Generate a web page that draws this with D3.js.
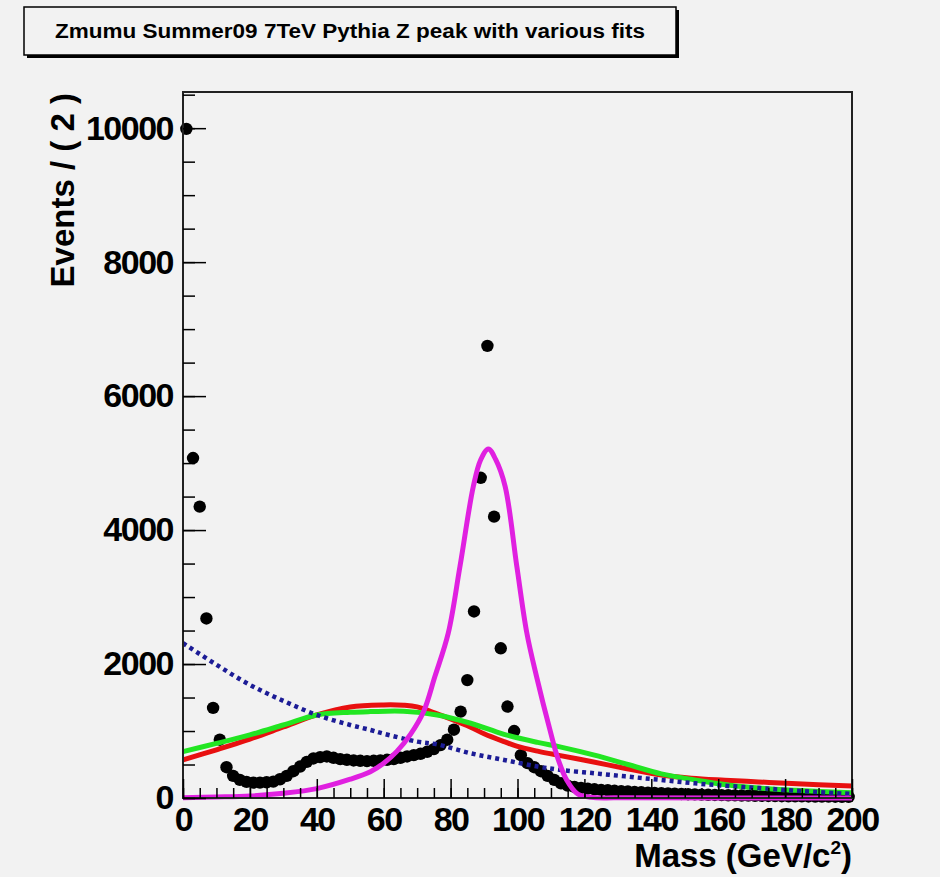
<!DOCTYPE html>
<html>
<head>
<meta charset="utf-8">
<script src="https://cdn.jsdelivr.net/npm/d3@7"></script>
<style>
  body { margin: 0; background: #ffffff; }
  text { font-family: "Liberation Sans", Arial, sans-serif; font-weight: bold; fill: #000; }
</style>
</head>
<body>
<svg width="946" height="882"></svg>
<script>
// data: dimuon mass histogram, 2 GeV bins (bin centres)
const dataMass = [1, 3, 5, 7, 9, 11, 13, 15, 17, 19, 21, 23, 25, 27, 29, 31, 33, 35, 37, 39,
  41, 43, 45, 47, 49, 51, 53, 55, 57, 59, 61, 63, 65, 67, 69, 71, 73, 75, 77, 79,
  81, 83, 85, 87, 89, 91, 93, 95, 97, 99, 101, 103, 105, 107, 109, 111, 113, 115, 117, 119,
  121, 123, 125, 127, 129, 131, 133, 135, 137, 139, 141, 143, 145, 147, 149, 151, 153, 155, 157, 159,
  161, 163, 165, 167, 169, 171, 173, 175, 177, 179, 181, 183, 185, 187, 189, 191, 193, 195, 197, 199];
const dataEvents = [9990, 5075, 4350, 2680, 1345, 870, 460, 330, 270, 240, 230, 230, 235, 245, 280, 330, 400, 470, 540, 590,
  610, 620, 600, 580, 570, 560, 555, 550, 555, 560, 570, 580, 600, 620, 640, 660, 690, 730, 790, 870,
  1020, 1290, 1760, 2785, 4780, 6750, 4200, 2235, 1365, 1000, 640, 520, 460, 400, 330, 270, 220, 185, 165, 150,
  140, 130, 122, 115, 108, 102, 96, 90, 85, 80, 76, 72, 68, 64, 60, 57, 54, 51, 48, 45,
  43, 41, 39, 37, 35, 33, 31, 30, 28, 27, 26, 25, 24, 23, 22, 21, 20, 19, 18, 17];

// fit curves
const redMass = [0, 10, 20, 30, 40, 50, 60, 66, 70, 76, 80, 86, 90, 96, 100, 106, 112, 122, 132, 142, 152, 162, 172, 182, 200];
const redEvents = [568, 720, 880, 1060, 1240, 1360, 1390, 1385, 1360, 1256, 1180, 1056, 960, 842, 770, 700, 640, 545, 445, 350, 295, 265, 240, 215, 180];

const greenMass = [0, 10, 20, 30, 40, 50, 56, 66, 76, 86, 96, 106, 113, 123, 133, 143, 153, 163, 173, 183, 200];
const greenEvents = [692, 815, 942, 1090, 1240, 1280, 1290, 1295, 1240, 1116, 950, 830, 760, 640, 500, 360, 270, 195, 145, 115, 80];

const blueMass = [0, 10, 20, 30, 40, 50, 56, 60, 70, 76, 86, 96, 106, 113, 123, 133, 143, 153, 163, 173, 183, 200];
const blueEvents = [2312, 1990, 1689, 1450, 1240, 1090, 1016, 960, 842, 800, 668, 568, 470, 418, 369, 319, 269, 219, 180, 145, 110, 60];

const magentaMass = [0, 10, 20, 30, 40, 50, 56, 60, 64, 68, 72, 75.3, 79.3, 82.8, 86.8, 89, 91.3, 93.5, 96.3, 99.8, 102.8, 105.7, 109.7, 112, 114.7, 118, 122, 130, 200];
const magentaEvents = [5, 15, 30, 70, 140, 280, 393, 520, 700, 950, 1300, 1813, 2461, 3457, 4653, 5050, 5210, 5050, 4653, 3457, 2461, 1813, 1016, 600, 269, 60, 10, 2, 0];

const xTicks = [0, 20, 40, 60, 80, 100, 120, 140, 160, 180, 200];
const yTicks = [0, 2000, 4000, 6000, 8000, 10000];

const titleText = 'Zmumu Summer09 7TeV Pythia Z peak with various fits';
const yAxisLabelText = 'Events / ( 2 )';

const svg = d3.select('svg');

// canvas background
svg.append('rect')
    .attr('x', 0).attr('y', 0)
    .attr('width', 940).attr('height', 877)
    .attr('fill', '#f2f2f2');

const frame = { left: 183, right: 852, top: 92, bottom: 798 };

const xScale = d3.scaleLinear().domain([0, 200]).range([frame.left, frame.right]);
const yScale = d3.scaleLinear().domain([0, 10540]).range([frame.bottom, frame.top]);

// title box with shadow
svg.append('rect')
    .attr('x', 27).attr('y', 10)
    .attr('width', 652).attr('height', 48)
    .attr('fill', '#000');
svg.append('rect')
    .attr('x', 24).attr('y', 7)
    .attr('width', 652).attr('height', 48)
    .attr('fill', '#f2f2f2')
    .attr('stroke', '#000')
    .attr('stroke-width', 1.5);
svg.append('text')
    .attr('x', 350).attr('y', 38)
    .attr('textLength', 590)
    .attr('lengthAdjust', 'spacingAndGlyphs')
    .style('font-size', '20px')
    .style('text-anchor', 'middle')
    .text(titleText);

// data points
svg.append('g')
    .selectAll('circle')
    .data(dataMass)
    .enter()
    .append('circle')
    .attr('cx', d => xScale(d))
    .attr('cy', (d, i) => yScale(dataEvents[i]))
    .attr('r', 6.2)
    .attr('fill', '#000');

const line = d3.line()
    .x(d => xScale(d[0]))
    .y(d => yScale(d[1]))
    .curve(d3.curveCatmullRom);

const pairs = (m, v) => m.map((d, i) => [d, v[i]]);

svg.append('path')
    .datum(pairs(redMass, redEvents))
    .attr('d', line)
    .attr('fill', 'none')
    .attr('stroke', '#e81010')
    .attr('stroke-width', 5);

svg.append('path')
    .datum(pairs(greenMass, greenEvents))
    .attr('d', line)
    .attr('fill', 'none')
    .attr('stroke', '#22e622')
    .attr('stroke-width', 5);

svg.append('path')
    .datum(pairs(blueMass, blueEvents))
    .attr('d', line)
    .attr('fill', 'none')
    .attr('stroke', '#1c1c96')
    .attr('stroke-width', 4.5)
    .attr('stroke-dasharray', '4,4');

svg.append('path')
    .datum(pairs(magentaMass, magentaEvents))
    .attr('d', line)
    .attr('fill', 'none')
    .attr('stroke', '#e020e0')
    .attr('stroke-width', 5);

// frame
svg.append('rect')
    .attr('x', frame.left).attr('y', frame.top)
    .attr('width', frame.right - frame.left)
    .attr('height', frame.bottom - frame.top)
    .attr('fill', 'none')
    .attr('stroke', '#222')
    .attr('stroke-width', 2);

// x axis: minor ticks, then major ticks with labels
const xMinor = d3.range(0, 201, 5);
svg.append('g')
    .attr('transform', `translate(0,${frame.bottom})`)
    .call(d3.axisBottom(xScale).tickValues(xMinor).tickSize(-10).tickFormat(''))
    .call(g => g.select('.domain').remove())
    .selectAll('line').attr('stroke', '#000').attr('stroke-width', 1.5);

const xAxisG = svg.append('g')
    .attr('transform', `translate(0,${frame.bottom})`)
    .call(d3.axisBottom(xScale).tickValues(xTicks).tickSize(-19).tickPadding(9).tickFormat(d3.format('d')));
xAxisG.select('.domain').remove();
xAxisG.selectAll('line').attr('stroke', '#000').attr('stroke-width', 1.5);
xAxisG.selectAll('text')
    .attr('font-family', null).attr('font-size', null)
    .style('font-size', '34px')
    .style('letter-spacing', '-1.5px');

// y axis
const yMinor = d3.range(0, 10501, 500);
svg.append('g')
    .attr('transform', `translate(${frame.left},0)`)
    .call(d3.axisLeft(yScale).tickValues(yMinor).tickSize(-12).tickFormat(''))
    .call(g => g.select('.domain').remove())
    .selectAll('line').attr('stroke', '#000').attr('stroke-width', 1.5);

const yAxisG = svg.append('g')
    .attr('transform', `translate(${frame.left},0)`)
    .call(d3.axisLeft(yScale).tickValues(yTicks).tickSize(-23).tickPadding(10).tickFormat(d3.format('d')));
yAxisG.select('.domain').remove();
yAxisG.selectAll('line').attr('stroke', '#000').attr('stroke-width', 1.5);
yAxisG.selectAll('text')
    .attr('font-family', null).attr('font-size', null)
    .style('font-size', '34px')
    .style('letter-spacing', '-1.5px');

// axis titles
const xLabel = svg.append('text')
    .attr('x', 852).attr('y', 867)
    .style('font-size', '33px')
    .style('text-anchor', 'end');
xLabel.append('tspan').text('Mass (GeV/c');
xLabel.append('tspan').attr('dy', -13).style('font-size', '19px').text('2');
xLabel.append('tspan').attr('dy', 13).text(')');

svg.append('text')
    .attr('transform', 'translate(74,93) rotate(-90)')
    .style('font-size', '33px')
    .style('text-anchor', 'end')
    .text(yAxisLabelText);
</script>
</body>
</html>
